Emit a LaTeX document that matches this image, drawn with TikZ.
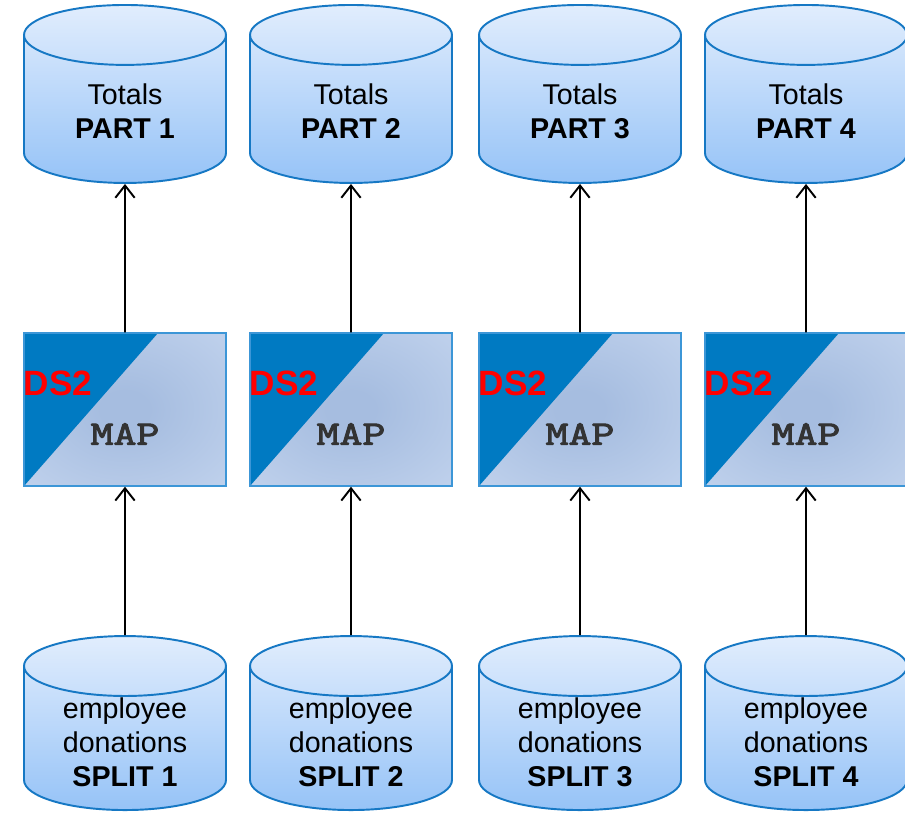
\documentclass[tikz,border=0pt]{standalone}
\usepackage{fontspec}
\setmainfont{Liberation Sans}
\newfontfamily\mapfont[FakeBold=3,FakeStretch=1.3]{Latin Modern Mono}
\usetikzlibrary{shapes.geometric,arrows.meta}
\definecolor{cylline}{RGB}{22,120,196}
\definecolor{cyltop}{RGB}{225,237,253}
\definecolor{cylbot}{RGB}{150,195,247}
\definecolor{dsblue}{RGB}{0,122,194}
\definecolor{mapin}{RGB}{166,189,224}
\definecolor{mapout}{RGB}{214,227,247}
\definecolor{mapline}{RGB}{60,150,215}
\definecolor{maptext}{RGB}{51,51,51}
\pgfdeclareradialshading{mapshade}{\pgfpoint{0bp}{0bp}}{color(0bp)=(mapin); color(6bp)=(mapin); color(62bp)=(mapout); color(75bp)=(mapout)}
\tikzset{
    store/.style={cylinder,shape border rotate=90,aspect=0.333,draw=cylline,line width=1.1pt,
        top color=cyltop,bottom color=cylbot,minimum width=4.04cm,text width=3.6cm,inner sep=0pt},
    storetext/.style={align=center,font=\fontsize{16.3}{19.4}\selectfont,inner sep=0pt},
    mapbox/.style={rectangle,draw=mapline,line width=0.8pt,shading=mapshade,
        minimum width=4.04cm,minimum height=3.06cm,inner sep=0pt,
        path picture={\fill[dsblue] (path picture bounding box.north west) -- ++(2.68,0)
            -- (path picture bounding box.south west) -- cycle;}},
    dstext/.style={text=red,font=\fontsize{20}{20}\selectfont\bfseries,inner sep=0pt,anchor=west},
    maptxt/.style={text=maptext,font=\fontsize{19.5}{19.5}\selectfont\mapfont,inner sep=0pt}
}
\begin{document}
\begin{tikzpicture}
        \useasboundingbox (0,0) rectangle (18.1,-16.24);
        \begin{scope}[every node/.style={store,minimum height=3.56cm,anchor=north}]
            \node (top1) at (2.50,-0.08) {};
            \node (top2) at (7.02,-0.08) {};
            \node (top3) at (11.60,-0.08) {};
            \node (top4) at (16.12,-0.08) {};
        \end{scope}
        \begin{scope}[every node/.style={storetext}]
            \node (tot1) at (2.50,-2.22) {Totals\\\textbf{PART 1}};
            \node (tot2) at (7.02,-2.22) {Totals\\\textbf{PART 2}};
            \node (tot3) at (11.60,-2.22) {Totals\\\textbf{PART 3}};
            \node (tot4) at (16.12,-2.22) {Totals\\\textbf{PART 4}};
        \end{scope}
        \begin{scope}[every node/.style={mapbox}]
            \node (map1) at (2.50,-8.19) {};
            \node (map2) at (7.02,-8.19) {};
            \node (map3) at (11.60,-8.19) {};
            \node (map4) at (16.12,-8.19) {};
        \end{scope}
        \node (ds1) [dstext] at ([yshift=-1.02cm]map1.north west) {DS2};
        \node (ds2) [dstext] at ([yshift=-1.02cm]map2.north west) {DS2};
        \node (ds3) [dstext] at ([yshift=-1.02cm]map3.north west) {DS2};
        \node (ds4) [dstext] at ([yshift=-1.02cm]map4.north west) {DS2};
        \node (mp1) [maptxt] at ([yshift=-0.49cm]map1.center) {MAP};
        \node (mp2) [maptxt] at ([yshift=-0.49cm]map2.center) {MAP};
        \node (mp3) [maptxt] at ([yshift=-0.49cm]map3.center) {MAP};
        \node (mp4) [maptxt] at ([yshift=-0.49cm]map4.center) {MAP};
        \begin{scope}[every node/.style={store,minimum height=3.48cm,anchor=south}]
            \node (split1) at (2.50,-16.22) {};
            \node (split2) at (7.02,-16.22) {};
            \node (split3) at (11.60,-16.22) {};
            \node (split4) at (16.12,-16.22) {};
        \end{scope}
        \begin{scope}[every node/.style={storetext}]
            \node (don1) at (2.50,-14.84) {employee\\donations\\\textbf{SPLIT 1}};
            \node (don2) at (7.02,-14.84) {employee\\donations\\\textbf{SPLIT 2}};
            \node (don3) at (11.60,-14.84) {employee\\donations\\\textbf{SPLIT 3}};
            \node (don4) at (16.12,-14.84) {employee\\donations\\\textbf{SPLIT 4}};
        \end{scope}
        \begin{scope}[every edge/.style={draw,line width=1.1pt,-{Straight Barb[length=7pt,width=11pt]}}]
            \path
                (map1.north) edge (top1.south)
                (map2.north) edge (top2.south)
                (map3.north) edge (top3.south)
                (map4.north) edge (top4.south)
                (split1.north) edge (map1.south)
                (split2.north) edge (map2.south)
                (split3.north) edge (map3.south)
                (split4.north) edge (map4.south);
        \end{scope}
    \end{tikzpicture}
\end{document}
